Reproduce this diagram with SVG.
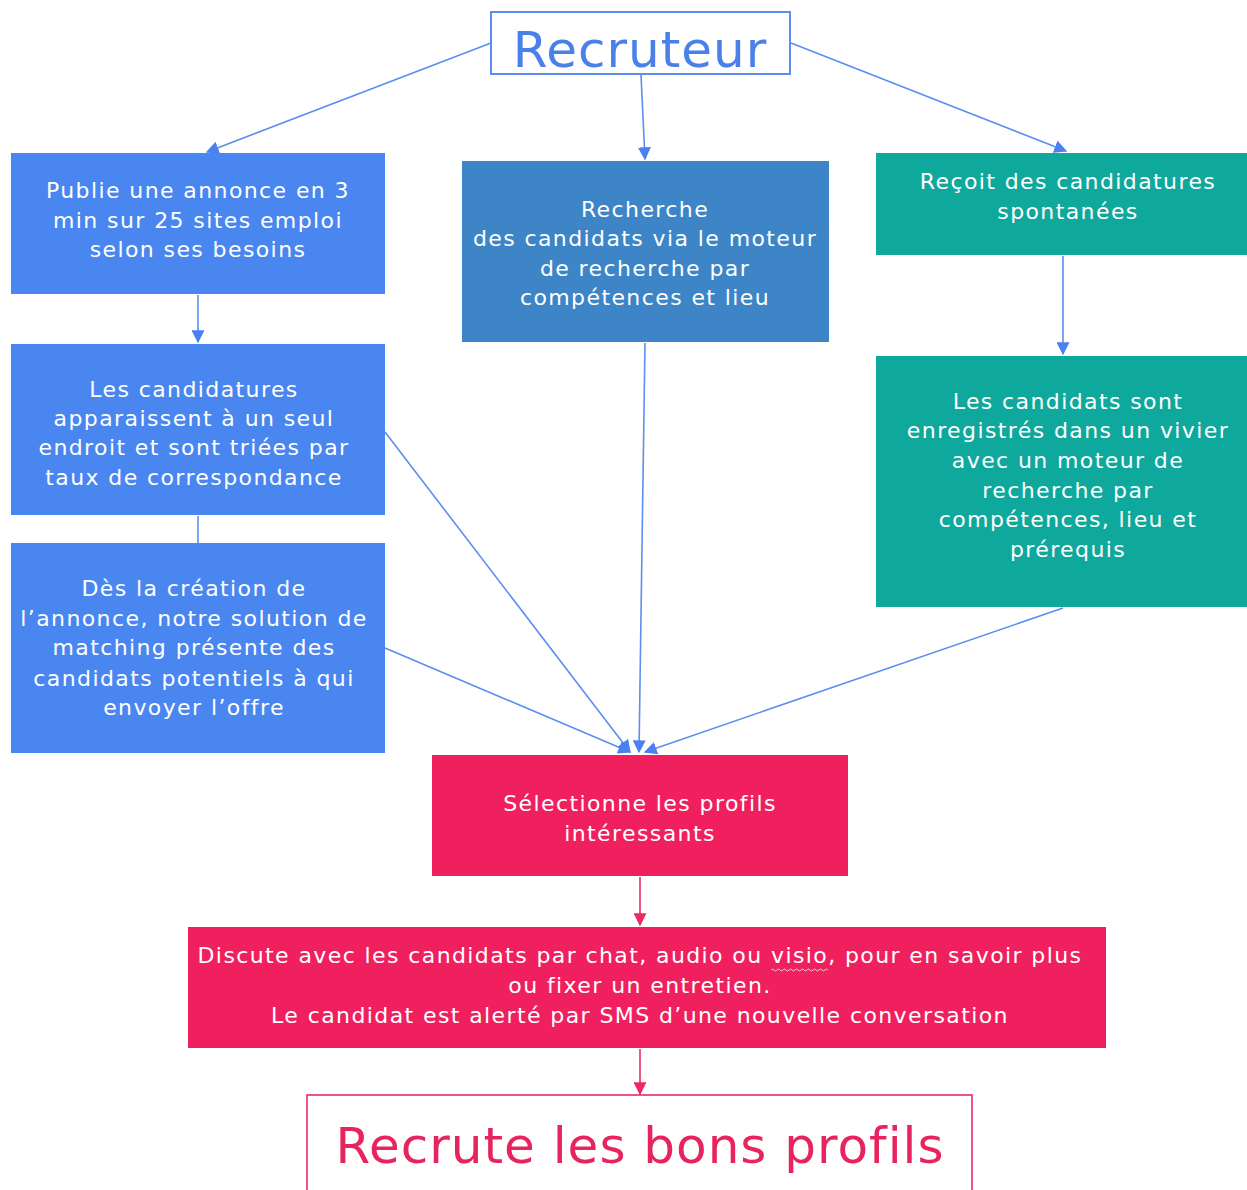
<svg xmlns="http://www.w3.org/2000/svg" width="1247" height="1190" viewBox="0 0 1247 1190">
<defs>
<style>
.t{font-family:"DejaVu Sans","Liberation Sans",sans-serif;font-size:22px;letter-spacing:1.4px;fill:#fff;text-anchor:middle}
.big{font-family:"DejaVu Sans","Liberation Sans",sans-serif;font-size:50px;letter-spacing:1px;text-anchor:middle}
.c{stroke:#5b8ef0;stroke-width:1.6;fill:none}
.p{stroke:#ee2a62;stroke-width:1.6;fill:none}
.blue{fill:#4a86f0}
.steel{fill:#3d85c6}
.teal{fill:#0fa89c}
.pink{fill:#f01f5e}
</style>
<marker id="ab" viewBox="0 0 10 10" refX="9" refY="5" markerWidth="13" markerHeight="13" markerUnits="userSpaceOnUse" orient="auto"><path d="M0,0 L10,5 L0,10 z" fill="#4a80f0"/></marker>
<marker id="ap" viewBox="0 0 10 10" refX="9" refY="5" markerWidth="13" markerHeight="13" markerUnits="userSpaceOnUse" orient="auto"><path d="M0,0 L10,5 L0,10 z" fill="#ee2a62"/></marker>
</defs>
<rect width="1247" height="1190" fill="#fff"/>
<g id="connectors">
<line class="c" x1="491" y1="43" x2="207" y2="152" marker-end="url(#ab)"/>
<line class="c" x1="641" y1="75" x2="645" y2="159" marker-end="url(#ab)"/>
<line class="c" x1="791" y1="43" x2="1066" y2="151" marker-end="url(#ab)"/>
<line class="c" x1="198" y1="295" x2="198" y2="342" marker-end="url(#ab)"/>
<line class="c" x1="198" y1="516" x2="198" y2="543"/>
<line class="c" x1="1063" y1="256" x2="1063" y2="354" marker-end="url(#ab)"/>
<line class="c" x1="385" y1="432" x2="630" y2="752" marker-end="url(#ab)"/>
<line class="c" x1="645" y1="343" x2="639" y2="752" marker-end="url(#ab)"/>
<line class="c" x1="385" y1="648" x2="630" y2="752" marker-end="url(#ab)"/>
<line class="c" x1="1063" y1="608" x2="645" y2="752" marker-end="url(#ab)"/>
<line class="p" x1="640" y1="877" x2="640" y2="925" marker-end="url(#ap)"/>
<line class="p" x1="640" y1="1049" x2="640" y2="1094" marker-end="url(#ap)"/>
</g>
<g id="recruteur">
<rect x="491" y="12" width="299" height="62" fill="#fff" stroke="#5b8ef0" stroke-width="2"/>
<text class="big" x="640" y="67" fill="#4a80ea">Recruteur</text>
</g>
<g id="publie">
<rect class="blue" x="11" y="153" width="374" height="141"/>
<text class="t" x="198" y="198">Publie une annonce en 3</text>
<text class="t" x="198" y="228">min sur  25 sites emploi</text>
<text class="t" x="198" y="257">selon ses besoins</text>
</g>
<g id="recherche">
<rect class="steel" x="462" y="161" width="367" height="181"/>
<text class="t" x="645" y="217">Recherche</text>
<text class="t" x="645" y="246">des candidats via le moteur</text>
<text class="t" x="645" y="276">de recherche par</text>
<text class="t" x="645" y="305">compétences et lieu</text>
</g>
<g id="recoit">
<rect class="teal" x="876" y="153" width="371" height="102"/>
<text class="t" x="1068" y="189">Reçoit des candidatures</text>
<text class="t" x="1068" y="219">spontanées</text>
</g>
<g id="candidatures">
<rect class="blue" x="11" y="344" width="374" height="171"/>
<text class="t" x="194" y="397">Les candidatures</text>
<text class="t" x="194" y="426">apparaissent à un seul</text>
<text class="t" x="194" y="455">endroit et sont triées par</text>
<text class="t" x="194" y="485">taux de correspondance</text>
</g>
<g id="matching">
<rect class="blue" x="11" y="543" width="374" height="210"/>
<text class="t" x="194" y="596">Dès la création de</text>
<text class="t" x="194" y="626">l’annonce, notre solution de</text>
<text class="t" x="194" y="655">matching présente des</text>
<text class="t" x="194" y="686">candidats potentiels à qui</text>
<text class="t" x="194" y="715">envoyer l’offre</text>
</g>
<g id="vivier">
<rect class="teal" x="876" y="356" width="371" height="251"/>
<text class="t" x="1068" y="409">Les candidats sont</text>
<text class="t" x="1068" y="438">enregistrés dans un vivier</text>
<text class="t" x="1068" y="468">avec un moteur de</text>
<text class="t" x="1068" y="498">recherche par</text>
<text class="t" x="1068" y="527">compétences, lieu et</text>
<text class="t" x="1068" y="557">prérequis</text>
</g>
<g id="selection">
<rect class="pink" x="432" y="755" width="416" height="121"/>
<text class="t" x="640" y="811">Sélectionne les profils</text>
<text class="t" x="640" y="841">intéressants</text>
</g>
<g id="discute">
<rect class="pink" x="188" y="927" width="918" height="121"/>
<text class="t" x="640" y="963">Discute avec les candidats par chat, audio ou visio, pour en savoir plus</text>
<text class="t" x="640" y="993">ou fixer un entretien.</text>
<text class="t" x="640" y="1023">Le candidat est alerté par SMS d’une nouvelle conversation</text>
<path d="M771,970 q1.5,-2 3,0 t3,0 t3,0 t3,0 t3,0 t3,0 t3,0 t3,0 t3,0 t3,0 t3,0 t3,0 t3,0 t3,0 t3,0 t3,0 t3,0 t3,0 t3,0" fill="none" stroke="#f6c6d4" stroke-width="1"/>
</g>
<g id="recrute">
<rect x="307" y="1095" width="665" height="100" fill="#fff" stroke="#ee2a62" stroke-width="1.6"/>
<text class="big" x="640" y="1163" fill="#e8245e">Recrute les bons profils</text>
</g>
</svg>
